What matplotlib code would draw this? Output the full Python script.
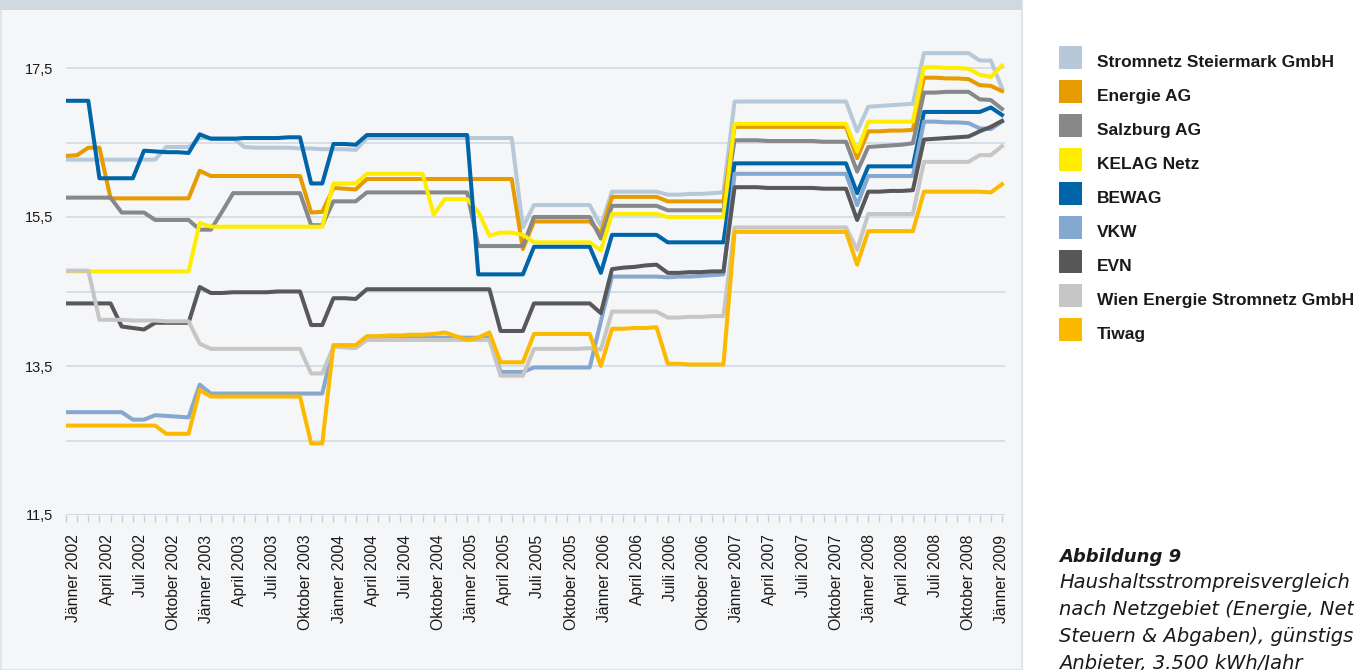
import numpy as np
import matplotlib.pyplot as plt
import matplotlib.transforms as mtransforms
from matplotlib.patches import Rectangle

# Haushaltsstrompreise (Cent/kWh) je Netzgebiet, monatlich Jänner 2002 - Jänner 2009
serien = ['Stromnetz Steiermark GmbH', 'Energie AG', 'Salzburg AG', 'KELAG Netz', 'BEWAG',
          'VKW', 'EVN', 'Wien Energie Stromnetz GmbH', 'Tiwag']
farben = ['#b7c9d9', '#e69b00', '#878889', '#ffed00', '#0064a8',
          '#85a8d0', '#58585a', '#c6c6c6', '#fbba00']

stromnetz = [16.27] * 9 + [16.44] * 3 + [16.56] * 4 + [16.44, 16.43, 16.43, 16.43, 16.43] + \
    [16.42, 16.42, 16.41, 16.41, 16.41, 16.40] + [16.56] * 14 + [15.36] + [15.66] * 6 + [15.38] + \
    [15.84] * 5 + [15.80, 15.80, 15.81, 15.81, 15.82, 15.83] + [17.05] * 11 + [16.65] + \
    [16.98, 16.99, 17.00, 17.01, 17.02] + [17.70] * 5 + [17.60, 17.60] + [17.23]

energie_ag = [16.32, 16.33, 16.43, 16.43] + [15.75] * 8 + [16.12] + [16.05] * 9 + [15.56, 15.57] + \
    [15.89, 15.88, 15.87] + [16.01] * 14 + [15.07] + [15.44] * 6 + [15.28] + [15.77] * 5 + \
    [15.71] * 6 + [16.71] * 11 + [16.29] + [16.65, 16.65, 16.66, 16.66, 16.67] + \
    [17.37, 17.37, 17.36, 17.36, 17.35] + [17.27, 17.26] + [17.19]

salzburg = [15.76] * 5 + [15.56] * 3 + [15.46] * 4 + [15.33] * 2 + [15.57] + [15.82] * 7 + \
    [15.39] * 2 + [15.71] * 3 + [15.83] * 10 + [15.11] * 5 + [15.50] * 6 + [15.21] + [15.65] * 5 + \
    [15.59] * 6 + [16.53, 16.53, 16.53, 16.52, 16.52, 16.52, 16.52, 16.52, 16.51, 16.51, 16.51] + \
    [16.11] + [16.44, 16.45, 16.46, 16.47, 16.49] + [17.17, 17.17, 17.18, 17.18, 17.18] + \
    [17.08, 17.07] + [16.95]

kelag = [14.77] * 12 + [15.42] + [15.37] * 11 + [15.95] * 3 + [16.08] * 6 + [15.53] + [15.74] * 3 + \
    [15.57, 15.25, 15.29, 15.29, 15.26] + [15.16] * 6 + [15.05] + [15.54] * 5 + [15.50] * 6 + \
    [16.75] * 11 + [16.38] + [16.78] * 5 + [17.51, 17.51, 17.50, 17.50, 17.49] + [17.41, 17.38] + [17.53]

bewag = [17.06] * 3 + [16.02] * 4 + [16.39, 16.38, 16.37, 16.37, 16.36] + [16.61] + \
    [16.55, 16.55, 16.55, 16.56, 16.56, 16.56, 16.56, 16.57, 16.57] + [15.95] * 2 + \
    [16.48, 16.48, 16.47] + [16.60] * 10 + [14.73] * 5 + [15.10] * 6 + [14.75] + [15.26] * 5 + \
    [15.16] * 6 + [16.22] * 11 + [15.82] + [16.18] * 5 + [16.91] * 6 + [16.97] + [16.87]

vkw = [12.88] * 6 + [12.78] * 2 + [12.84, 12.83, 12.82, 12.81] + [13.25] + [13.13] * 11 + \
    [13.77] * 3 + [13.88] * 12 + [13.42] * 3 + [13.48] * 6 + [14.10] + [14.70] * 5 + \
    [14.69, 14.70, 14.70, 14.71, 14.72, 14.73] + [16.08] * 11 + [15.66] + [16.05] * 5 + \
    [16.78, 16.78, 16.77, 16.77, 16.76] + [16.69, 16.68] + [16.78]

evn = [14.34] * 5 + [14.03, 14.01, 13.99] + [14.08] * 4 + [14.56] + \
    [14.48, 14.48, 14.49, 14.49, 14.49, 14.49, 14.50, 14.50, 14.50] + [14.05] * 2 + \
    [14.41, 14.41, 14.40] + [14.53] * 12 + [13.97] * 3 + [14.34] * 6 + [14.21] + \
    [14.80, 14.82, 14.83, 14.85, 14.86] + [14.75, 14.75, 14.76, 14.76, 14.77, 14.77] + \
    [15.90, 15.90, 15.90, 15.89, 15.89, 15.89, 15.89, 15.89, 15.88, 15.88, 15.88] + [15.46] + \
    [15.84, 15.84, 15.85, 15.85, 15.86] + [16.54, 16.55, 16.56, 16.57, 16.58] + [16.65, 16.71, 16.79]

wien = [14.78] * 3 + [14.12, 14.12, 14.12, 14.11, 14.11, 14.11, 14.10, 14.10, 14.10] + [13.80] + \
    [13.73] * 9 + [13.40] * 2 + [13.76, 13.75, 13.74] + [13.85] * 12 + [13.37] * 3 + \
    [13.73, 13.73, 13.73, 13.73, 13.73, 13.74, 13.72] + [14.23] * 5 + \
    [14.15, 14.15, 14.16, 14.16, 14.17, 14.17] + [15.36] * 11 + [15.06] + [15.54] * 5 + \
    [16.24] * 5 + [16.33] * 2 + [16.45]

tiwag = [12.70] * 9 + [12.59] * 3 + [13.18] + [13.09] * 9 + [12.46] * 2 + [13.78] * 3 + \
    [13.90, 13.90, 13.91, 13.91, 13.92, 13.92, 13.93] + [13.95, 13.90, 13.85, 13.88, 13.95] + \
    [13.55] * 3 + [13.93] * 6 + [13.50] + [14.00, 14.00, 14.01, 14.01, 14.02] + \
    [13.53, 13.53, 13.52, 13.52, 13.52, 13.52] + [15.30] * 11 + [14.86] + [15.31] * 5 + \
    [15.84] * 6 + [15.83] + [15.94]

werte = [stromnetz, energie_ag, salzburg, kelag, bewag, vkw, evn, wien, tiwag]

monate = ['Jänner', 'April', 'Juli', 'Oktober']
tick_labels = []
for jahr in range(2002, 2009):
    for m in monate:
        tick_labels.append(f'{m} {jahr}')
tick_labels.append('Jänner 2009')
tick_labels[18] = 'Juili 2006'

y_ticks = [11.5, 12.5, 13.5, 14.5, 15.5, 16.5, 17.5]
y_labels = ['11,5', '', '13,5', '', '15,5', '', '17,5']

W, H = 1354, 670
fig = plt.figure(figsize=(W / 100, H / 100), dpi=100)
fig.patch.set_facecolor('white')

# Hintergrundfeld und oberer Balken
fig.patches.append(Rectangle((1 / W, 0), 1021 / W, 1, transform=fig.transFigure,
                             facecolor='#f5f6f8', edgecolor='#dfe5ec', lw=1.5, zorder=-2))
fig.patches.append(Rectangle((0, 1 - 10 / H), 1022 / W, 10 / H, transform=fig.transFigure,
                             facecolor='#cfd9e2', edgecolor='none', zorder=-1))

ax = fig.add_axes([66 / W, (H - 515) / H, 939 / W, 505 / H])
ax.set_zorder(2)
ax.set_facecolor('none')

x = np.arange(len(stromnetz))
for name, farbe, y in zip(serien, farben, werte):
    ax.plot(x, y, color=farbe, lw=2.9, solid_joinstyle='round', label=name, zorder=3)

ax.set_xlim(0, 84.27)
ax.set_ylim(11.5, 17.5 + 58 / 74.5)

ax.set_yticks(y_ticks)
ax.set_yticklabels(y_labels, fontsize=10.5, family='Liberation Sans', color='#1a1a1a')
ax.tick_params(axis='y', length=0, pad=9.5)
ax.yaxis.grid(True, color='#d3dce6', lw=1.3, zorder=1)

ax.set_xticks(np.arange(0, 85, 3))
ax.set_xticklabels(tick_labels, rotation=90, ha='center', va='top',
                   fontsize=11.3, family='Liberation Sans', color='#1a1a1a')
ax.set_xticks(np.arange(0, 85, 1), minor=True)
ax.tick_params(axis='x', which='both', length=5, width=1, color='#c5d1dd', pad=9)

# Beschriftungen wie im Original leicht versetzt (links mehr, rechts kaum)
labels = ax.get_xticklabels()
for k, lbl in enumerate(labels):
    dx = 8 - 8 * k / (len(labels) - 1)
    versatz = mtransforms.ScaledTranslation(dx / 100, 0, fig.dpi_scale_trans)
    lbl.set_transform(lbl.get_transform() + versatz)

for s in ax.spines.values():
    s.set_visible(False)
ax.axhline(11.5, color='#cdd8e3', lw=2, zorder=2)

# Legende
for k, (name, farbe) in enumerate(zip(serien, farben)):
    y0 = 46 + 34 * k
    fig.patches.append(Rectangle((1059 / W, 1 - (y0 + 23) / H), 23 / W, 23 / H,
                                 transform=fig.transFigure, facecolor=farbe, edgecolor='none'))
    fig.text(1097 / W, 1 - (y0 + 21) / H, name, fontsize=12.5, fontweight='bold',
             family='Liberation Sans', color='#1a1a1a', va='baseline')

# Bildunterschrift
fig.text(1059 / W, 1 - 562 / H, 'Abbildung 9', fontsize=13, fontweight='bold',
         style='italic', family='DejaVu Sans', color='#1a1a1a', va='baseline')
zeilen = ['Haushaltsstrompreisvergleich', 'nach Netzgebiet (Energie, Netz,',
          'Steuern & Abgaben), günstigster', 'Anbieter, 3.500 kWh/Jahr']
for k, z in enumerate(zeilen):
    fig.text(1059 / W, 1 - (588 + 27 * k) / H, z, fontsize=14, style='italic',
             family='DejaVu Sans', color='#1a1a1a', va='baseline')

fig.savefig('out.png', dpi=100)
